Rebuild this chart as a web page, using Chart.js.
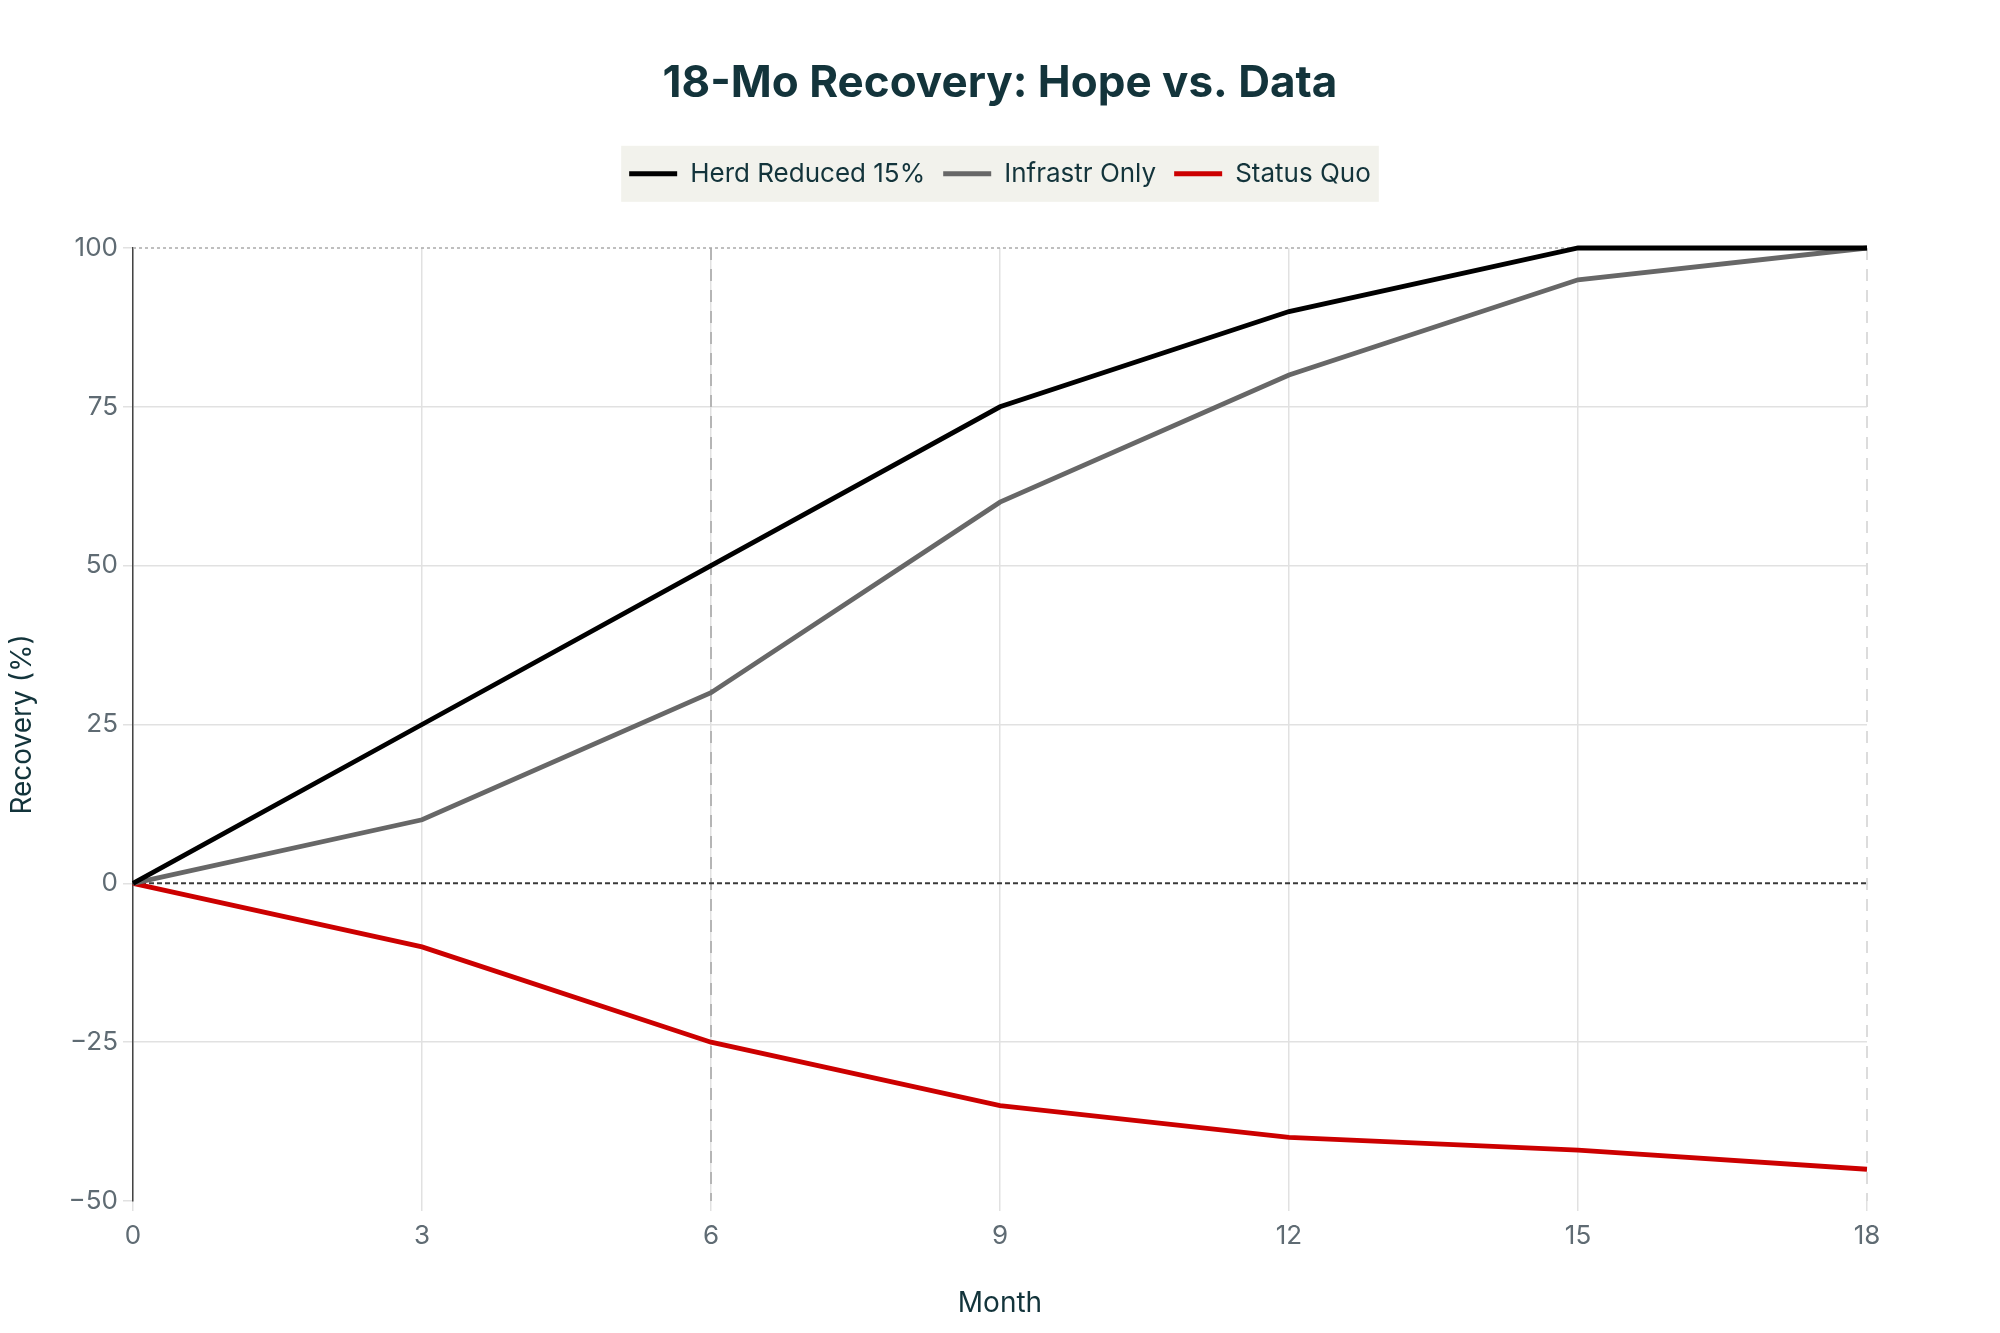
<!DOCTYPE html>
<html>
<head>
<meta charset="utf-8">
<script src="https://cdn.jsdelivr.net/npm/chart.js@4.4.1/dist/chart.umd.min.js"></script>
<style>
  html, body { margin: 0; padding: 0; background: #fff; }
  #wrap { width: 2000px; height: 1333px; }
</style>
</head>
<body>
<div id="wrap"><canvas id="chart"></canvas></div>
<script>
// months on the x axis
const months = [0, 3, 6, 9, 12, 15, 18];
// recovery (%) per scenario
const herdReduced = [0, 25, 50, 75, 90, 100, 100];
const infrastrOnly = [0, 10, 30, 60, 80, 95, 100];
const statusQuo = [0, -10, -25, -35, -40, -42, -45];
const seriesNames = ['Herd Reduced 15%', 'Infrastr Only', 'Status Quo'];
// reference lines
const markX = [6, 18];
const markY = [0, 100];

const textDark = '#13343b';
const tickGray = '#5f6b73';
const gridGray = '#e1e1e1';

function pts(vals) {
  return months.map((m, i) => ({ x: m, y: vals[i] }));
}

// light panel behind the legend
const legendBg = {
  id: 'legendBg',
  beforeDraw(chart) {
    const boxes = chart.legend.legendHitBoxes;
    if (!boxes || !boxes.length) return;
    let l = Infinity, r = -Infinity, t = Infinity, b = -Infinity;
    boxes.forEach(h => {
      l = Math.min(l, h.left); r = Math.max(r, h.left + h.width);
      t = Math.min(t, h.top); b = Math.max(b, h.top + h.height);
    });
    const ctx = chart.ctx;
    ctx.save();
    ctx.fillStyle = '#f2f2ec';
    ctx.fillRect(l - 8, t - 15, r - l + 16, b - t + 30);
    ctx.restore();
  }
};

// dashed / dotted reference lines
const refLines = {
  id: 'refLines',
  beforeDatasetsDraw(chart) {
    const { ctx, chartArea: a, scales: { x, y } } = chart;
    ctx.save();
    markX.forEach(v => {
      const px = x.getPixelForValue(v);
      ctx.beginPath();
      ctx.strokeStyle = v === 6 ? '#b5b5b5' : '#dcdcdc';
      ctx.lineWidth = 2;
      ctx.setLineDash([12, 9]);
      ctx.moveTo(px, a.top);
      ctx.lineTo(px, a.bottom);
      ctx.stroke();
    });
    markY.forEach(v => {
      const py = y.getPixelForValue(v);
      ctx.beginPath();
      if (v === 0) {
        ctx.strokeStyle = '#3a3a3a';
        ctx.lineWidth = 2;
        ctx.setLineDash([5, 3]);
      } else {
        ctx.strokeStyle = '#aaa';
        ctx.lineWidth = 1.5;
        ctx.setLineDash([3, 3]);
      }
      ctx.moveTo(a.left, py);
      ctx.lineTo(a.right, py);
      ctx.stroke();
    });
    ctx.restore();
  }
};

const ctx = document.getElementById('chart').getContext('2d');
new Chart(ctx, {
  type: 'line',
  data: {
    datasets: [
      { label: seriesNames[0], data: pts(herdReduced), borderColor: '#000000', backgroundColor: '#000000' },
      { label: seriesNames[1], data: pts(infrastrOnly), borderColor: '#676767', backgroundColor: '#676767' },
      { label: seriesNames[2], data: pts(statusQuo), borderColor: '#cc0000', backgroundColor: '#cc0000' }
    ]
  },
  options: {
    responsive: true,
    maintainAspectRatio: false,
    animation: false,
    devicePixelRatio: 1,
    layout: { padding: 0 },
    elements: {
      line: { borderWidth: 4.8, tension: 0 },
      point: { radius: 0, hoverRadius: 0 }
    },
    datasets: { line: { clip: false } },
    plugins: {
      title: {
        display: true,
        text: '18-Mo Recovery: Hope vs. Data',
        color: textDark,
        font: { family: 'Inter', size: 44, weight: 'bold' },
        padding: { top: 57, bottom: 33 }
      },
      // empty spacer between legend and plot
      subtitle: {
        display: true,
        text: '',
        weight: 500,
        font: { size: 1 },
        padding: { top: 0, bottom: 50 }
      },
      legend: {
        position: 'top',
        labels: {
          color: textDark,
          font: { family: 'Inter', size: 26 },
          boxWidth: 48,
          boxHeight: 5,
          padding: 18,
          generateLabels(chart) {
            return chart.data.datasets.map((d, i) => ({
              text: d.label,
              fillStyle: d.borderColor,
              strokeStyle: d.borderColor,
              lineWidth: 0,
              fontColor: textDark,
              datasetIndex: i
            }));
          }
        }
      },
      tooltip: { enabled: false }
    },
    scales: {
      x: {
        type: 'linear',
        min: 0,
        max: 18,
        afterFit(s) { s.height = 132; },
        border: { display: false },
        grid: {
          color: c => (c.tick && c.tick.value === 18 ? 'rgba(0,0,0,0)' : gridGray),
          lineWidth: 1.5,
          tickColor: gridGray,
          tickLength: 10
        },
        ticks: {
          stepSize: 3,
          color: tickGray,
          padding: 10,
          font: { family: 'Inter', size: 26 }
        },
        title: {
          display: true,
          text: 'Month',
          color: textDark,
          font: { family: 'Inter', size: 28 },
          padding: { top: 0, bottom: 13 }
        }
      },
      y: {
        min: -50,
        max: 100,
        afterFit(s) { s.width = 133; },
        border: { display: true, color: '#444', width: 1.5 },
        grid: {
          color: c => (c.tick && [0, 100, -50].includes(c.tick.value) ? 'rgba(0,0,0,0)' : gridGray),
          lineWidth: 1.5,
          tickColor: gridGray,
          tickLength: 10
        },
        ticks: {
          stepSize: 25,
          color: tickGray,
          padding: 5,
          font: { family: 'Inter', size: 26 },
          callback: v => (v < 0 ? '\u2212' + Math.abs(v) : String(v))
        },
        title: {
          display: true,
          text: 'Recovery (%)',
          color: textDark,
          font: { family: 'Inter', size: 28 },
          padding: { top: 6, bottom: 0 }
        }
      },
      // invisible right margin so the title and legend stay centred on the page
      yRight: {
        position: 'right',
        display: true,
        min: -50,
        max: 100,
        afterFit(s) { s.width = 133; },
        ticks: { display: false },
        grid: { display: false, drawOnChartArea: false },
        border: { display: false },
        title: { display: false }
      }
    }
  },
  plugins: [legendBg, refLines]
});
</script>
</body>
</html>
